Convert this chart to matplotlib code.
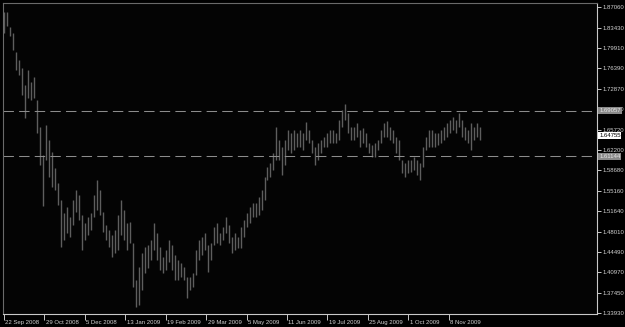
import numpy as np
import matplotlib
matplotlib.use("Agg")
import matplotlib.pyplot as plt
import matplotlib.transforms as mtransforms

# GBPUSD daily, Sep 2008 - Nov 2009 (one bar ~ 2 trading days)
highs = [1.862, 1.862, 1.836, 1.825, 1.792, 1.779, 1.765, 1.735, 1.761, 1.740,
         1.749, 1.709, 1.662, 1.614, 1.666, 1.640, 1.619, 1.591, 1.565, 1.535,
         1.513, 1.523, 1.506, 1.535, 1.553, 1.544, 1.509, 1.496, 1.506, 1.513,
         1.544, 1.570, 1.553, 1.515, 1.492, 1.483, 1.475, 1.483, 1.509, 1.535,
         1.518, 1.496, 1.497, 1.461, 1.396, 1.419, 1.443, 1.454, 1.457, 1.466,
         1.496, 1.478, 1.454, 1.436, 1.449, 1.466, 1.457, 1.440, 1.431, 1.426,
         1.419, 1.402, 1.402, 1.409, 1.449, 1.466, 1.471, 1.478, 1.457, 1.461,
         1.489, 1.496, 1.478, 1.489, 1.506, 1.492, 1.471, 1.478, 1.471, 1.489,
         1.501, 1.513, 1.523, 1.530, 1.530, 1.541, 1.553, 1.575, 1.593, 1.600,
         1.617, 1.662, 1.640, 1.627, 1.640, 1.657, 1.652, 1.657, 1.652, 1.657,
         1.652, 1.671, 1.657, 1.640, 1.627, 1.634, 1.640, 1.645, 1.652, 1.657,
         1.657, 1.652, 1.674, 1.692, 1.702, 1.686, 1.662, 1.662, 1.669, 1.657,
         1.660, 1.652, 1.634, 1.631, 1.634, 1.640, 1.657, 1.669, 1.673, 1.662,
         1.657, 1.645, 1.640, 1.605, 1.600, 1.605, 1.605, 1.610, 1.605, 1.600,
         1.627, 1.645, 1.657, 1.657, 1.652, 1.652, 1.657, 1.662, 1.669, 1.674,
         1.680, 1.674, 1.686, 1.674, 1.662, 1.657, 1.669, 1.662, 1.669, 1.662]
lows = [1.825, 1.838, 1.820, 1.796, 1.761, 1.752, 1.718, 1.678, 1.713, 1.709,
        1.713, 1.652, 1.596, 1.525, 1.605, 1.575, 1.558, 1.553, 1.527, 1.454,
        1.466, 1.478, 1.471, 1.492, 1.515, 1.501, 1.449, 1.466, 1.475, 1.483,
        1.506, 1.518, 1.509, 1.480, 1.466, 1.454, 1.436, 1.443, 1.449, 1.475,
        1.466, 1.449, 1.461, 1.384, 1.350, 1.353, 1.379, 1.409, 1.417, 1.431,
        1.449, 1.431, 1.414, 1.409, 1.414, 1.428, 1.414, 1.396, 1.396, 1.402,
        1.396, 1.365, 1.379, 1.384, 1.405, 1.431, 1.440, 1.449, 1.410, 1.431,
        1.457, 1.461, 1.457, 1.466, 1.478, 1.461, 1.443, 1.449, 1.452, 1.452,
        1.471, 1.489, 1.496, 1.506, 1.506, 1.509, 1.518, 1.535, 1.570, 1.575,
        1.588, 1.605, 1.605, 1.579, 1.596, 1.622, 1.617, 1.622, 1.627, 1.627,
        1.622, 1.640, 1.634, 1.617, 1.596, 1.605, 1.617, 1.627, 1.627, 1.634,
        1.634, 1.634, 1.640, 1.662, 1.674, 1.652, 1.640, 1.640, 1.645, 1.627,
        1.634, 1.627, 1.617, 1.610, 1.610, 1.622, 1.634, 1.645, 1.645, 1.640,
        1.634, 1.617, 1.605, 1.582, 1.575, 1.582, 1.584, 1.588, 1.579, 1.570,
        1.593, 1.622, 1.627, 1.627, 1.627, 1.631, 1.634, 1.640, 1.645, 1.652,
        1.657, 1.652, 1.662, 1.645, 1.640, 1.634, 1.622, 1.640, 1.645, 1.640]

date_labels = ["22 Sep 2008", "29 Oct 2008", "5 Dec 2008", "13 Jan 2009",
               "19 Feb 2009", "29 Mar 2009", "5 May 2009", "11 Jun 2009",
               "19 Jul 2009", "25 Aug 2009", "1 Oct 2009", "8 Nov 2009"]
price_ticks = [1.87060, 1.83430, 1.79910, 1.76390, 1.72870, 1.69350, 1.65720,
               1.62200, 1.58680, 1.55160, 1.51640, 1.48010, 1.44490, 1.40970,
               1.37450, 1.33930]
level_hi = 1.69057
level_lo = 1.61144
last_price = 1.64755

plt.rcParams['font.family'] = ["Liberation Sans", "DejaVu Sans"]
fs = 4.3

fig = plt.figure(figsize=(6.25, 3.27), dpi=100, facecolor="#000000")
ax = fig.add_axes([3 / 625, 13 / 327, 594 / 625, 311 / 327])
ax.set_facecolor("#040404")

x = np.arange(len(highs))
ax.vlines(x, lows, highs, color="#5e5e5e", linewidth=1.0)

for lvl in (level_hi, level_lo):
    ax.axhline(lvl, color="#8c8c8c", linewidth=0.75, linestyle=(0, (10, 5)))

ax.set_xlim(-0.3, 198)
ax.set_ylim(1.33756, 1.87754)

for s in ("left", "top"):
    ax.spines[s].set_color("#6a6a6a")
for s in ("right", "bottom"):
    ax.spines[s].set_color("#c8c8c8")
    ax.spines[s].set_linewidth(0.8)

ax.yaxis.tick_right()
ax.set_yticks(price_ticks)
ax.set_yticklabels([f"{p:.5f}" for p in price_ticks])
ax.tick_params(axis="y", colors="#c8c8c8", labelcolor="#d0d0d0", length=3,
               width=0.7, pad=1.2, labelsize=fs)

ax.set_xticks(np.arange(len(date_labels)) * 13.5)
ax.set_xticklabels(date_labels, ha="left")
ax.tick_params(axis="x", colors="#c8c8c8", labelcolor="#d0d0d0", length=4,
               width=0.7, pad=0.5, labelsize=fs)
for lab in ax.get_xticklabels():
    lab.set_transform(lab.get_transform() + mtransforms.ScaledTranslation(1.5 / 100, 0, fig.dpi_scale_trans))

# price tags on the right scale
tr = mtransforms.blended_transform_factory(ax.transAxes, ax.transData)
for val, fc, tc in ((level_hi, "#8a8a8a", "#e8e8e8"),
                    (level_lo, "#8a8a8a", "#e8e8e8"),
                    (last_price, "#ffffff", "#000000")):
    ax.text(1.0035, val, f"{val:.5f}", transform=tr, ha="left", va="center",
            fontsize=fs, color=tc, clip_on=False,
            bbox=dict(boxstyle="square,pad=0.15", fc=fc, ec="none"))

fig.savefig("out.png", dpi=100, facecolor=fig.get_facecolor())
